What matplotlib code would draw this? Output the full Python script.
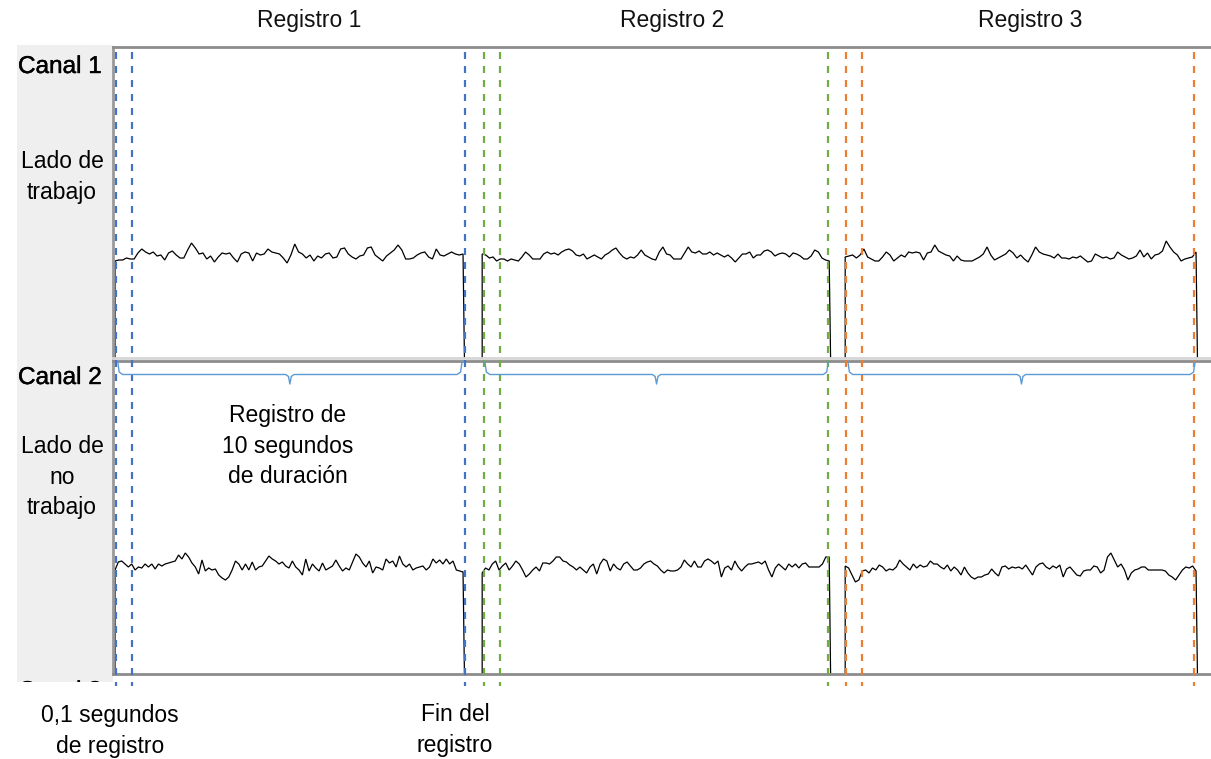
import numpy as np
import matplotlib
matplotlib.use("Agg")
import matplotlib.pyplot as plt
import matplotlib.patheffects as pe

# ---------------- data ----------------
record_names = ["Registro 1", "Registro 2", "Registro 3"]
record_start = [0.0, 10.55, 20.98]    # s
record_end = [10.0, 20.52, 31.06]     # s
marker_colors = ["#4472c4", "#70ad47", "#ed7d31"]
marker_blue = [0.03, 0.49, 10.06]
marker_green = [10.60, 11.06, 20.49]
marker_orange = [21.01, 21.47, 31.01]

ch1_rec1 = [97, 98, 98, 100, 99, 99, 105, 109, 106, 104, 106, 102, 103, 98, 105, 107, 103, 100, 100,
            108, 115, 110, 104, 105, 99, 102, 96, 101, 105, 104, 105, 100, 96, 104, 106, 105, 97, 105,
            103, 104, 109, 106, 105, 104, 100, 95, 103, 114, 106, 104, 100, 103, 97, 102, 100, 104, 105,
            100, 101, 109, 110, 104, 101, 99, 102, 103, 110, 111, 103, 100, 97, 102, 105, 108, 113, 108,
            99, 99, 100, 103, 105, 106, 101, 99, 109, 103, 102, 104, 106, 104, 103, 104]
ch1_rec2 = [104, 103, 100, 101, 97, 99, 99, 97, 99, 98, 97, 101, 106, 103, 99, 99, 99, 104, 106, 104,
            105, 103, 106, 108, 109, 107, 103, 102, 104, 99, 101, 103, 101, 99, 103, 105, 108, 110, 105,
            101, 99, 101, 100, 103, 108, 103, 101, 99,
            98, 106, 111, 104, 103, 99, 99, 99, 105, 111, 106, 105, 107, 104, 104, 106, 103, 105, 103,
            101, 103, 100, 96, 100, 104, 104, 106, 100, 103, 103, 107, 108, 106, 102, 104, 105, 104, 101,
            105, 104, 102, 99, 99, 102, 108, 106, 100, 98, 97]
ch1_rec3 = [101, 102, 103, 100, 103, 109, 101, 99, 97, 97, 101, 106, 103, 97, 100, 103, 101, 106, 105,
            106, 105, 98, 105, 106, 113, 107, 105, 103, 102, 97, 102, 98, 97, 97, 97, 99, 101, 104, 111,
            103, 98, 100, 102, 104, 108, 105, 100, 103, 99, 96, 103, 111, 106, 104, 103, 102, 100, 104,
            100, 100, 99, 101, 100, 102, 99, 96, 97, 104, 102, 100, 101, 99, 100, 106, 103, 101, 99, 100,
            102, 108, 101, 105, 99, 103, 104, 107, 117, 111, 106, 103, 97, 99, 100, 101, 106]
ch2_rec1 = [103, 111, 112, 109, 106, 109, 103, 106, 105, 109, 106, 109, 104, 109, 107, 109, 110, 111,
            112, 118, 114, 120, 116, 110, 106, 99, 113, 102, 105, 103, 104, 98, 95, 93, 96, 103, 112, 109,
            103, 109, 103, 111, 103, 106, 107, 112, 117, 114, 112, 109, 111, 107, 105, 112, 106, 103, 98,
            114, 102, 109, 105, 102, 110, 103, 105, 107, 113, 107, 102, 105, 103, 111, 119, 116, 110, 106,
            112, 100, 106, 105, 103, 114, 110, 112, 106, 117, 109, 106, 109, 103, 105, 106, 107, 103, 106,
            114, 110, 113, 109, 114, 109, 112, 103, 102, 101]
ch2_rec2 = [100, 105, 103, 109, 112, 103, 107, 110, 103, 107, 112, 109, 103, 96, 99, 103, 106, 102, 110,
            110, 109, 112, 116, 116, 112, 111, 108, 106, 103, 106, 103, 100, 106, 109, 99, 109, 114, 112,
            102, 109, 105, 103, 109, 111, 107, 103, 103, 105, 109, 111, 112, 109, 107, 103, 100,
            103, 102, 102, 103, 106, 113, 109, 106, 112, 106, 106, 112, 114, 112, 109, 112, 96, 105, 107,
            103, 112, 106, 102, 106, 109, 109, 110, 111, 109, 112, 103, 96, 105, 109, 106, 103, 109, 106,
            109, 105, 109, 110, 106, 106, 106, 106, 109, 116, 116]
ch2_rec3 = [107, 105, 98, 91, 93, 102, 103, 100, 105, 103, 108, 106, 102, 104, 103, 106, 113, 109, 106,
            103, 109, 105, 108, 106, 107, 112, 109, 109, 106, 104, 108, 102, 106, 103, 98, 106, 100, 96,
            94, 96, 96, 98, 99, 104, 100, 97, 106, 107, 104, 106, 105, 106, 104, 108, 103, 98, 106, 109,
            110, 106, 104, 107, 105, 108, 96, 104, 106, 102, 98, 97, 102, 103, 103, 107, 106, 100, 103,
            116, 120, 113, 106, 109, 103, 93, 100, 103, 104, 106, 106, 103, 103, 103, 103, 103, 102, 98,
            96, 93, 98, 103, 106, 105, 107, 102]

# ---------------- layout helpers (pixel based) ----------------
W, H = 1211, 759
FONT = "Liberation Sans"
plt.rcParams["font.family"] = [FONT, "DejaVu Sans"]


def rect(x0, y0, x1, y1):
    return [x0 / W, 1 - y1 / H, (x1 - x0) / W, (y1 - y0) / H]


def fx(px):
    return px / W


def fy(py):
    return 1 - py / H


fig = plt.figure(figsize=(W / 100, H / 100), dpi=100)
fig.patch.set_facecolor("white")

XLIM = (-0.057, 31.49)
bold_fx = [pe.withStroke(linewidth=0.3, foreground="black")]

# grey label panel
axp = fig.add_axes(rect(17, 45, 113, 682))
axp.set_facecolor("#efefef")
for s in axp.spines.values():
    s.set_visible(False)
axp.set_xticks([])
axp.set_yticks([])
axp.set_xlim(0, 1)
axp.set_ylim(0, 1)
axp.text(fx(18), fy(681), "Canal 3", transform=fig.transFigure, fontsize=17.5,
         ha="left", va="top", color="black", clip_on=True, path_effects=bold_fx)


def channel_axes(box, ylim):
    ax = fig.add_axes(box)
    ax.set_xlim(*XLIM)
    ax.set_ylim(*ylim)
    ax.set_xticks([])
    ax.set_yticks([])
    ax.spines["right"].set_visible(False)
    ax.spines["left"].set_color("#9a9a9a")
    ax.spines["left"].set_linewidth(2.0)
    ax.spines["top"].set_color("#8c8c8c")
    ax.spines["top"].set_linewidth(2.0)
    ax.spines["bottom"].set_color("#8c8c8c")
    ax.spines["bottom"].set_linewidth(2.0)
    return ax


ax1 = channel_axes(rect(113, 47, W, 358), (0, 311))
ax1.spines["bottom"].set_color("#d6d6d6")
ax2 = channel_axes(rect(113, 361, W, 674), (-1, 312))


def draw_trace(ax, start, end, vals):
    t = np.linspace(start, end, len(vals))
    x = np.concatenate([[start], t, [end + 0.04]])
    y = np.concatenate([[0], vals, [0]])
    ax.plot(x, y, color="black", lw=0.9, clip_on=False, solid_joinstyle="miter")


for ax, recs in [(ax1, [ch1_rec1, ch1_rec2, ch1_rec3]), (ax2, [ch2_rec1, ch2_rec2, ch2_rec3])]:
    for s, e, v in zip(record_start, record_end, recs):
        draw_trace(ax, s, e, v)

# overlay axes (pixel y, seconds x) for markers and braces
axo = fig.add_axes(rect(113, 0, W, H))
axo.set_xlim(*XLIM)
axo.set_ylim(H, 0)
axo.axis("off")
axo.patch.set_alpha(0)

for col, xs in zip(marker_colors, [marker_blue, marker_green, marker_orange]):
    for xv in xs:
        axo.plot([xv, xv], [52, 686], color=col, lw=1.6, linestyle=(0, (3.15, 3.15)),
                 clip_on=False)

# braces
brace_col = "#5b9bd5"
for s, e in zip(record_start, record_end):
    x0 = s + 0.08
    x1 = e - 0.03
    m = (x0 + x1) / 2
    bx = [x0, x0 + 0.04, x0 + 0.14, m - 0.12, m - 0.04, m, m + 0.04, m + 0.12, x1 - 0.14, x1 - 0.04, x1]
    by = [362, 372, 374.5, 374.5, 376.5, 384, 376.5, 374.5, 374.5, 372, 362]
    axo.plot(bx, by, color=brace_col, lw=1.0, clip_on=False)

# texts
TS = 16.5
LS = 1.42
for name, cx in zip(record_names, [309, 672, 1030]):
    fig.text(fx(cx), fy(20), name, fontsize=TS, ha="center", va="center", color="#111111")

fig.text(fx(18), fy(67), "Canal 1", fontsize=17.5, ha="left", va="center", color="black",
         path_effects=bold_fx)
fig.text(fx(18), fy(378), "Canal 2", fontsize=17.5, ha="left", va="center", color="black",
         path_effects=bold_fx)
fig.text(fx(62), fy(177), "Lado de\ntrabajo", fontsize=TS, ha="center", va="center",
         multialignment="center", linespacing=LS)
fig.text(fx(62), fy(477), "Lado de\nno\ntrabajo", fontsize=TS, ha="center", va="center",
         multialignment="center", linespacing=LS)
fig.text(fx(288), fy(446), "Registro de\n10 segundos\nde duración", fontsize=TS, ha="center",
         va="center", multialignment="center", linespacing=LS)
fig.text(fx(110), fy(731), "0,1 segundos\nde registro", fontsize=TS, ha="center", va="center",
         multialignment="center", linespacing=LS)
fig.text(fx(455), fy(730), "Fin del\nregistro", fontsize=TS, ha="center", va="center",
         multialignment="center", linespacing=LS)

fig.savefig("out.png", dpi=100, facecolor="white")
